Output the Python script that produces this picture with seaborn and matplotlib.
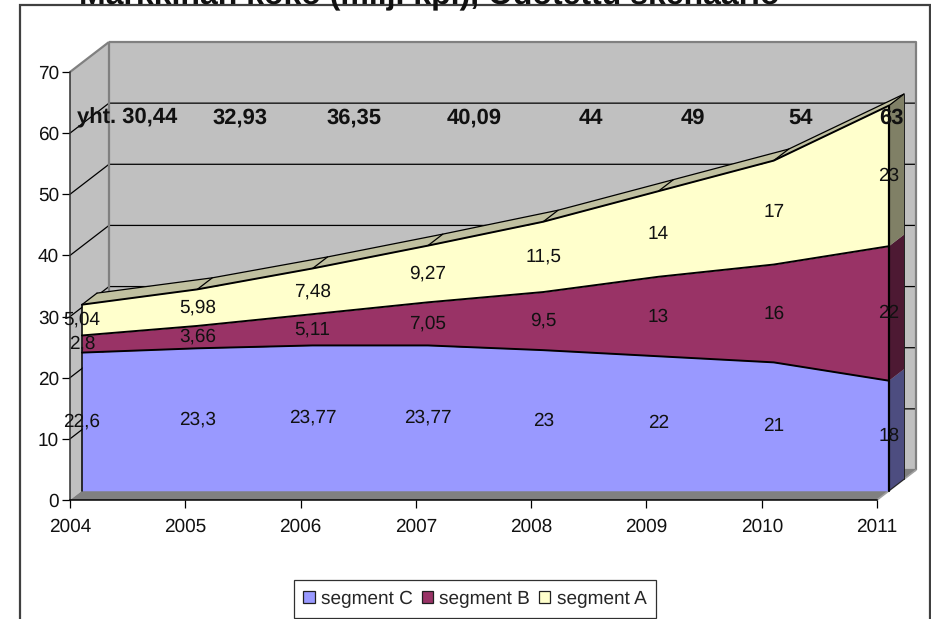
import numpy as np
import pandas as pd
import matplotlib
matplotlib.use('Agg')
import matplotlib.pyplot as plt
from matplotlib.patches import Patch, Rectangle
import seaborn as sns

# ====================== data ======================
years = [2004, 2005, 2006, 2007, 2008, 2009, 2010, 2011]
segment_c = [22.6, 23.3, 23.77, 23.77, 23, 22, 21, 18]
segment_b = [2.8, 3.66, 5.11, 7.05, 9.5, 13, 16, 22]
segment_a = [5.04, 5.98, 7.48, 9.27, 11.5, 14, 17, 23]
totals = ["yht. 30,44", "32,93", "36,35", "40,09", "44", "49", "54", "63"]
segment_names = ["segment C", "segment B", "segment A"]
y_ticks = [0, 10, 20, 30, 40, 50, 60, 70]
title = "Markkinan koko (milj. kpl), Odotettu skenaario"

# ====================== layout (pixels of the 931x619 picture) ======================
W, H = 931, 619
X0, X1, Y0, Y70 = 70, 877, 500, 72
PX_YEAR = (X1 - X0) / 7
PX_VAL = (Y0 - Y70) / 70
DX = 39 / PX_YEAR       # full depth of the box, in data units
DY = 30 / PX_VAL
D_FRONT = 12 / 39       # the areas sit inside the box
D_BACK = 27 / 39
total_px = [127, 240, 354, 474, 591, 693, 801, 891]

colors = ["#9999FF", "#993366", "#FFFFCC"]
side_colors = ["#4D4D80", "#4D1933", "#808066"]
top_color = "#C0C0A0"
wall_color = "#C0C0C0"
floor_color = "#808080"
edge_gray = "#808080"
LW = 0.9

sns.set_theme(style="white")
plt.rcParams['font.family'] = ['Liberation Sans', 'DejaVu Sans']
plt.rcParams['text.hinting'] = 'no_hinting'
plt.rcParams['text.hinting_factor'] = 1


def project(x, v, depth):
    return np.asarray(x, dtype=float) + depth * DX, np.asarray(v, dtype=float) + depth * DY


def poly(ax, xs, ys, color, z, **kw):
    ax.fill(xs, ys, color=color, zorder=z, clip_on=False, linewidth=0, **kw)


layers = np.array([segment_c, segment_b, segment_a], dtype=float)
tops = layers.cumsum(axis=0)
bottoms = tops - layers

fig = plt.figure(figsize=(W / 100, H / 100), dpi=100)
ax = fig.add_axes([X0 / W, (H - Y0) / H, (X1 - X0) / W, (Y0 - Y70) / H])
ax.patch.set_visible(False)

# ====================== walls ======================
x_l, x_r = years[0], years[-1]
bx0, by0 = project(x_l, 0, 1)
bx1, by1 = project(x_r, 0, 1)
_, by70 = project(x_l, 70, 1)
poly(ax, [x_l, bx0, bx0, x_l], [0, by0, by70, 70], wall_color, 1)
poly(ax, [bx0, bx1, bx1, bx0], [by0, by1, by70, by70], wall_color, 1)
poly(ax, [x_l, x_r, bx1, bx0], [0, 0, by1, by0], floor_color, 1.5)

for v in y_ticks[1:-1]:
    gx, gy = project(x_l, v, 1)
    ax.plot([x_l, gx, bx1], [v, gy, gy], color="black", lw=LW, zorder=1.2, clip_on=False)
for xs, ys in [([x_l, bx0], [70, by70]), ([bx0, bx1, bx1], [by70, by70, by1]),
               ([bx0, bx0], [by0, by70]), ([bx0, bx1], [by0, by1])]:
    ax.plot(xs, ys, color=edge_gray, lw=1.6, zorder=1.3, clip_on=False, solid_capstyle='butt')
ax.plot([x_r, bx1], [0, by1], color="#A0A0A0", lw=1.2, zorder=1.6, clip_on=False)

# ====================== top strip and side faces ======================
fx, ft = project(years, tops[2], D_FRONT)
bx, bt = project(years, tops[2], D_BACK)
poly(ax, np.r_[fx, bx[::-1]], np.r_[ft, bt[::-1]], top_color, 2)
for i in range(len(years)):
    ax.plot([fx[i], bx[i]], [ft[i], bt[i]], color="black", lw=LW, zorder=2.1, clip_on=False)
ax.plot(bx, bt, color="black", lw=LW, zorder=2.1, clip_on=False)

for i in range(3):
    sx0, sb0 = project(x_r, bottoms[i, -1], D_FRONT)
    sx1, sb1 = project(x_r, bottoms[i, -1], D_BACK)
    _, st0 = project(x_r, tops[i, -1], D_FRONT)
    _, st1 = project(x_r, tops[i, -1], D_BACK)
    poly(ax, [sx0, sx1, sx1, sx0], [sb0, sb1, st1, st0], side_colors[i], 2)
ax.plot([sx1, sx1], [project(x_r, 0, D_BACK)[1], st1], color="#202020", lw=0.7, zorder=2.1, clip_on=False)
ax.plot([project(x_r, 0, D_FRONT)[0], sx1], [project(x_r, 0, D_FRONT)[1], project(x_r, 0, D_BACK)[1]],
        color="#202020", lw=0.7, zorder=2.1, clip_on=False)

# ====================== front faces ======================
for i in range(3):
    px, low = project(years, bottoms[i], D_FRONT)
    _, high = project(years, tops[i], D_FRONT)
    art = ax.fill_between(px, low, high, color=colors[i], linewidth=0, zorder=3)
    art.set_clip_on(False)

rows = []
for i, name in enumerate(segment_names):
    for year, top in zip(years, tops[i]):
        px, py = project(year, top, D_FRONT)
        rows.append({"px": float(px), "py": float(py), "segment": name})
df = pd.DataFrame(rows)
sns.lineplot(data=df, x="px", y="py", hue="segment", palette=["black"] * 3, estimator=None,
             linewidth=1.4, legend=False, zorder=3.2, ax=ax, clip_on=False)

front_l, base = project(x_l, 0, D_FRONT)
front_r, _ = project(x_r, 0, D_FRONT)
ax.plot([front_l, front_l], [base, ft[0]], color="black", lw=1.1, zorder=3.2, clip_on=False)
ax.plot([front_r, front_r], [base, ft[-1]], color="black", lw=1.6, zorder=3.2, clip_on=False)

# ====================== data labels ======================
for i in range(3):
    for j, year in enumerate(years):
        lx, ly = project(year, (bottoms[i, j] + tops[i, j]) / 2, D_FRONT)
        ax.annotate(str(layers[i, j]).removesuffix(".0").replace(".", ","), (lx, ly), xytext=(0, 0),
                    textcoords="offset points", ha="center", va="center",
                    fontsize=14, color="#111111", zorder=5, annotation_clip=False)

for label, px in zip(totals, total_px):
    fig.text(px / W, 1 - 118 / H, label, ha="center", va="center", fontsize=15.5,
             fontweight="bold", color="#111111", zorder=6)

# ====================== axes ======================
ax.set_xlim(x_l, x_r)
ax.set_ylim(0, 70)
ax.set_xticks(years)
ax.set_xticklabels([str(y) for y in years])
ax.set_yticks(y_ticks)
ax.set_xlabel("")
ax.set_ylabel("")
ax.tick_params(axis="both", which="major", direction="out", length=5.8, width=0.9,
               color="black", labelsize=13.7, labelcolor="#111111", left=True, bottom=True)
ax.tick_params(axis="x", pad=7.5)
ax.tick_params(axis="y", pad=2)
for side in ["top", "right"]:
    ax.spines[side].set_visible(False)
ax.spines["left"].set_color("#303030")
ax.spines["bottom"].set_color("black")
for side in ["left", "bottom"]:
    ax.spines[side].set_linewidth(1.1)

# ====================== frame, title, legend ======================
fig.add_artist(Rectangle((19.5 / W, -0.05), (930 - 19.5) / W, 1.05 - 5 / H, transform=fig.transFigure,
                         fill=False, edgecolor="#404040", linewidth=1.6))
fig.text(429 / W, 1 - 3 / H, title, ha="center", va="baseline", fontsize=22.8,
         fontweight="bold", color="#111111")

handles = [Patch(facecolor=c, edgecolor="#202020", linewidth=0.9, label=n)
           for c, n in zip(colors, segment_names)]
fig.legend(handles=handles, loc="center", bbox_to_anchor=(475 / W, 1 - 599 / H), ncol=3,
           fontsize=14, frameon=True, fancybox=False, framealpha=1, edgecolor="#303030",
           handlelength=0.58, handleheight=0.58, handletextpad=0.33, columnspacing=0.45,
           borderpad=0.5, borderaxespad=0).get_frame().set_linewidth(0.9)

fig.savefig("out.png", dpi=100)
